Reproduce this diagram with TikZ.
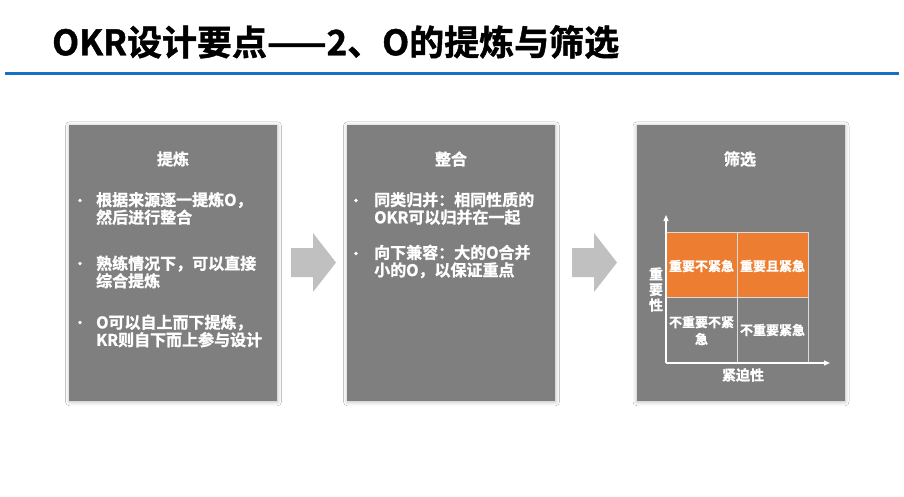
\documentclass[tikz,border=0pt]{standalone}
\usepackage{fontspec}
\IfFontExistsTF{Noto Sans CJK SC Bold}
  {\newfontfamily\cjk{Noto Sans CJK SC Bold}[FakeBold=1.3]}
  {\newfontfamily\cjk{Noto Sans CJK SC}[FakeBold=2.5]}
\usetikzlibrary{arrows.meta,shadows.blur}
\definecolor{panelgray}{RGB}{127,127,127}
\definecolor{arrowgray}{RGB}{192,192,192}
\definecolor{titleblue}{RGB}{22,112,196}
\definecolor{cellorange}{RGB}{237,125,49}
\definecolor{gridline}{RGB}{220,220,220}
\tikzset{
  panel/.style={fill=panelgray, minimum width=208pt, minimum height=276pt, inner sep=0pt,
    blur shadow={shadow xshift=0.5pt, shadow yshift=-0.8pt, shadow blur radius=4pt, shadow opacity=30}},
  head/.style={font=\cjk\fontsize{16}{18}\selectfont, text=white, inner sep=0pt},
  bul/.style={font=\cjk\fontsize{16}{17.5}\selectfont, text=white, align=left, inner sep=0pt, anchor=west},
  dot/.style={circle, fill=white, inner sep=0pt, minimum size=3.6pt},
  cell/.style={font=\cjk\fontsize{13}{17}\selectfont, text=white, align=center, inner sep=0pt},
  axlab/.style={font=\cjk\fontsize{14}{15.5}\selectfont, text=white, align=center, inner sep=0pt},
  axis/.style={draw=white, line width=1.2pt, -{Triangle[width=5pt,length=6pt]}},
  grid/.style={draw=gridline, line width=1pt},
  blockarrow/.style={fill=arrowgray}
}
\begin{document}
\begin{tikzpicture}[x=1pt,y=-1pt]
\useasboundingbox[fill=white] (0,0) rectangle (904,496);
% title
\node[font=\cjk\fontsize{35}{40}\selectfont, anchor=west, inner sep=0pt] (title) at (52,42) {OKR设计要点——2、O的提炼与筛选};
\draw[titleblue, line width=3pt] (5,73) -- (899,73);
% panels
\node[panel] (p1) at (173,263) {};
\node[panel] (p2) at (451,263) {};
\node[panel] (p3) at (740.5,263) {};
% block arrows
\fill[blockarrow] (291,248) -- (313,248) -- (313,233) -- (336,262.5) -- (313,292) -- (313,277) -- (291,277) -- cycle;
\fill[blockarrow] (572,248) -- (594,248) -- (594,233) -- (617,262.5) -- (594,292) -- (594,277) -- (572,277) -- cycle;
% panel 1
\node[head] (h1) at (173,159) {提炼};
\node[dot] (d11) at (80,200.5) {};
\node[bul] (b11) at (96,208.5) {根据来源逐一提炼O，\\然后进行整合};
\node[dot] (d12) at (80,263.5) {};
\node[bul] (b12) at (96,272) {熟练情况下，可以直接\\综合提炼};
\node[dot] (d13) at (80,322.5) {};
\node[bul] (b13) at (96,331) {O可以自上而下提炼，\\KR则自下而上参与设计};
% panel 2
\node[head] (h2) at (451,159) {整合};
\node[dot] (d21) at (356,200.5) {};
\node[bul] (b21) at (374,208.5) {同类归并：相同性质的\\OKR可以归并在一起};
\node[dot] (d22) at (356,253.5) {};
\node[bul] (b22) at (374,261.5) {向下兼容：大的O合并\\小的O，以保证重点};
% panel 3
\node[head] (h3) at (740,159) {筛选};
\fill[cellorange] (666,232) rectangle (808,297);
\coordinate (o) at (666,363);
\coordinate (ytip) at (666,215);
\coordinate (xtip) at (830,363);
\draw[grid] (666,232) -- (808,232);
\draw[grid] (666,297) -- (808,297);
\draw[grid] (737,232) -- (737,363);
\draw[grid] (808,232) -- (808,363);
\draw[axis] (o) -- (ytip);
\draw[axis] (o) -- (xtip);
\node[cell] (c1) at (701.5,266) {重要不紧急};
\node[cell] (c2) at (772.5,266) {重要且紧急};
\node[cell] (c3) at (701.5,330.5) {不重要不紧\\急};
\node[cell] (c4) at (772.5,330) {不重要紧急};
\node[axlab] (ly) at (656,289.5) {重\\要\\性};
\node[axlab] (lx) at (743,375) {紧迫性};
\end{tikzpicture}
\end{document}
